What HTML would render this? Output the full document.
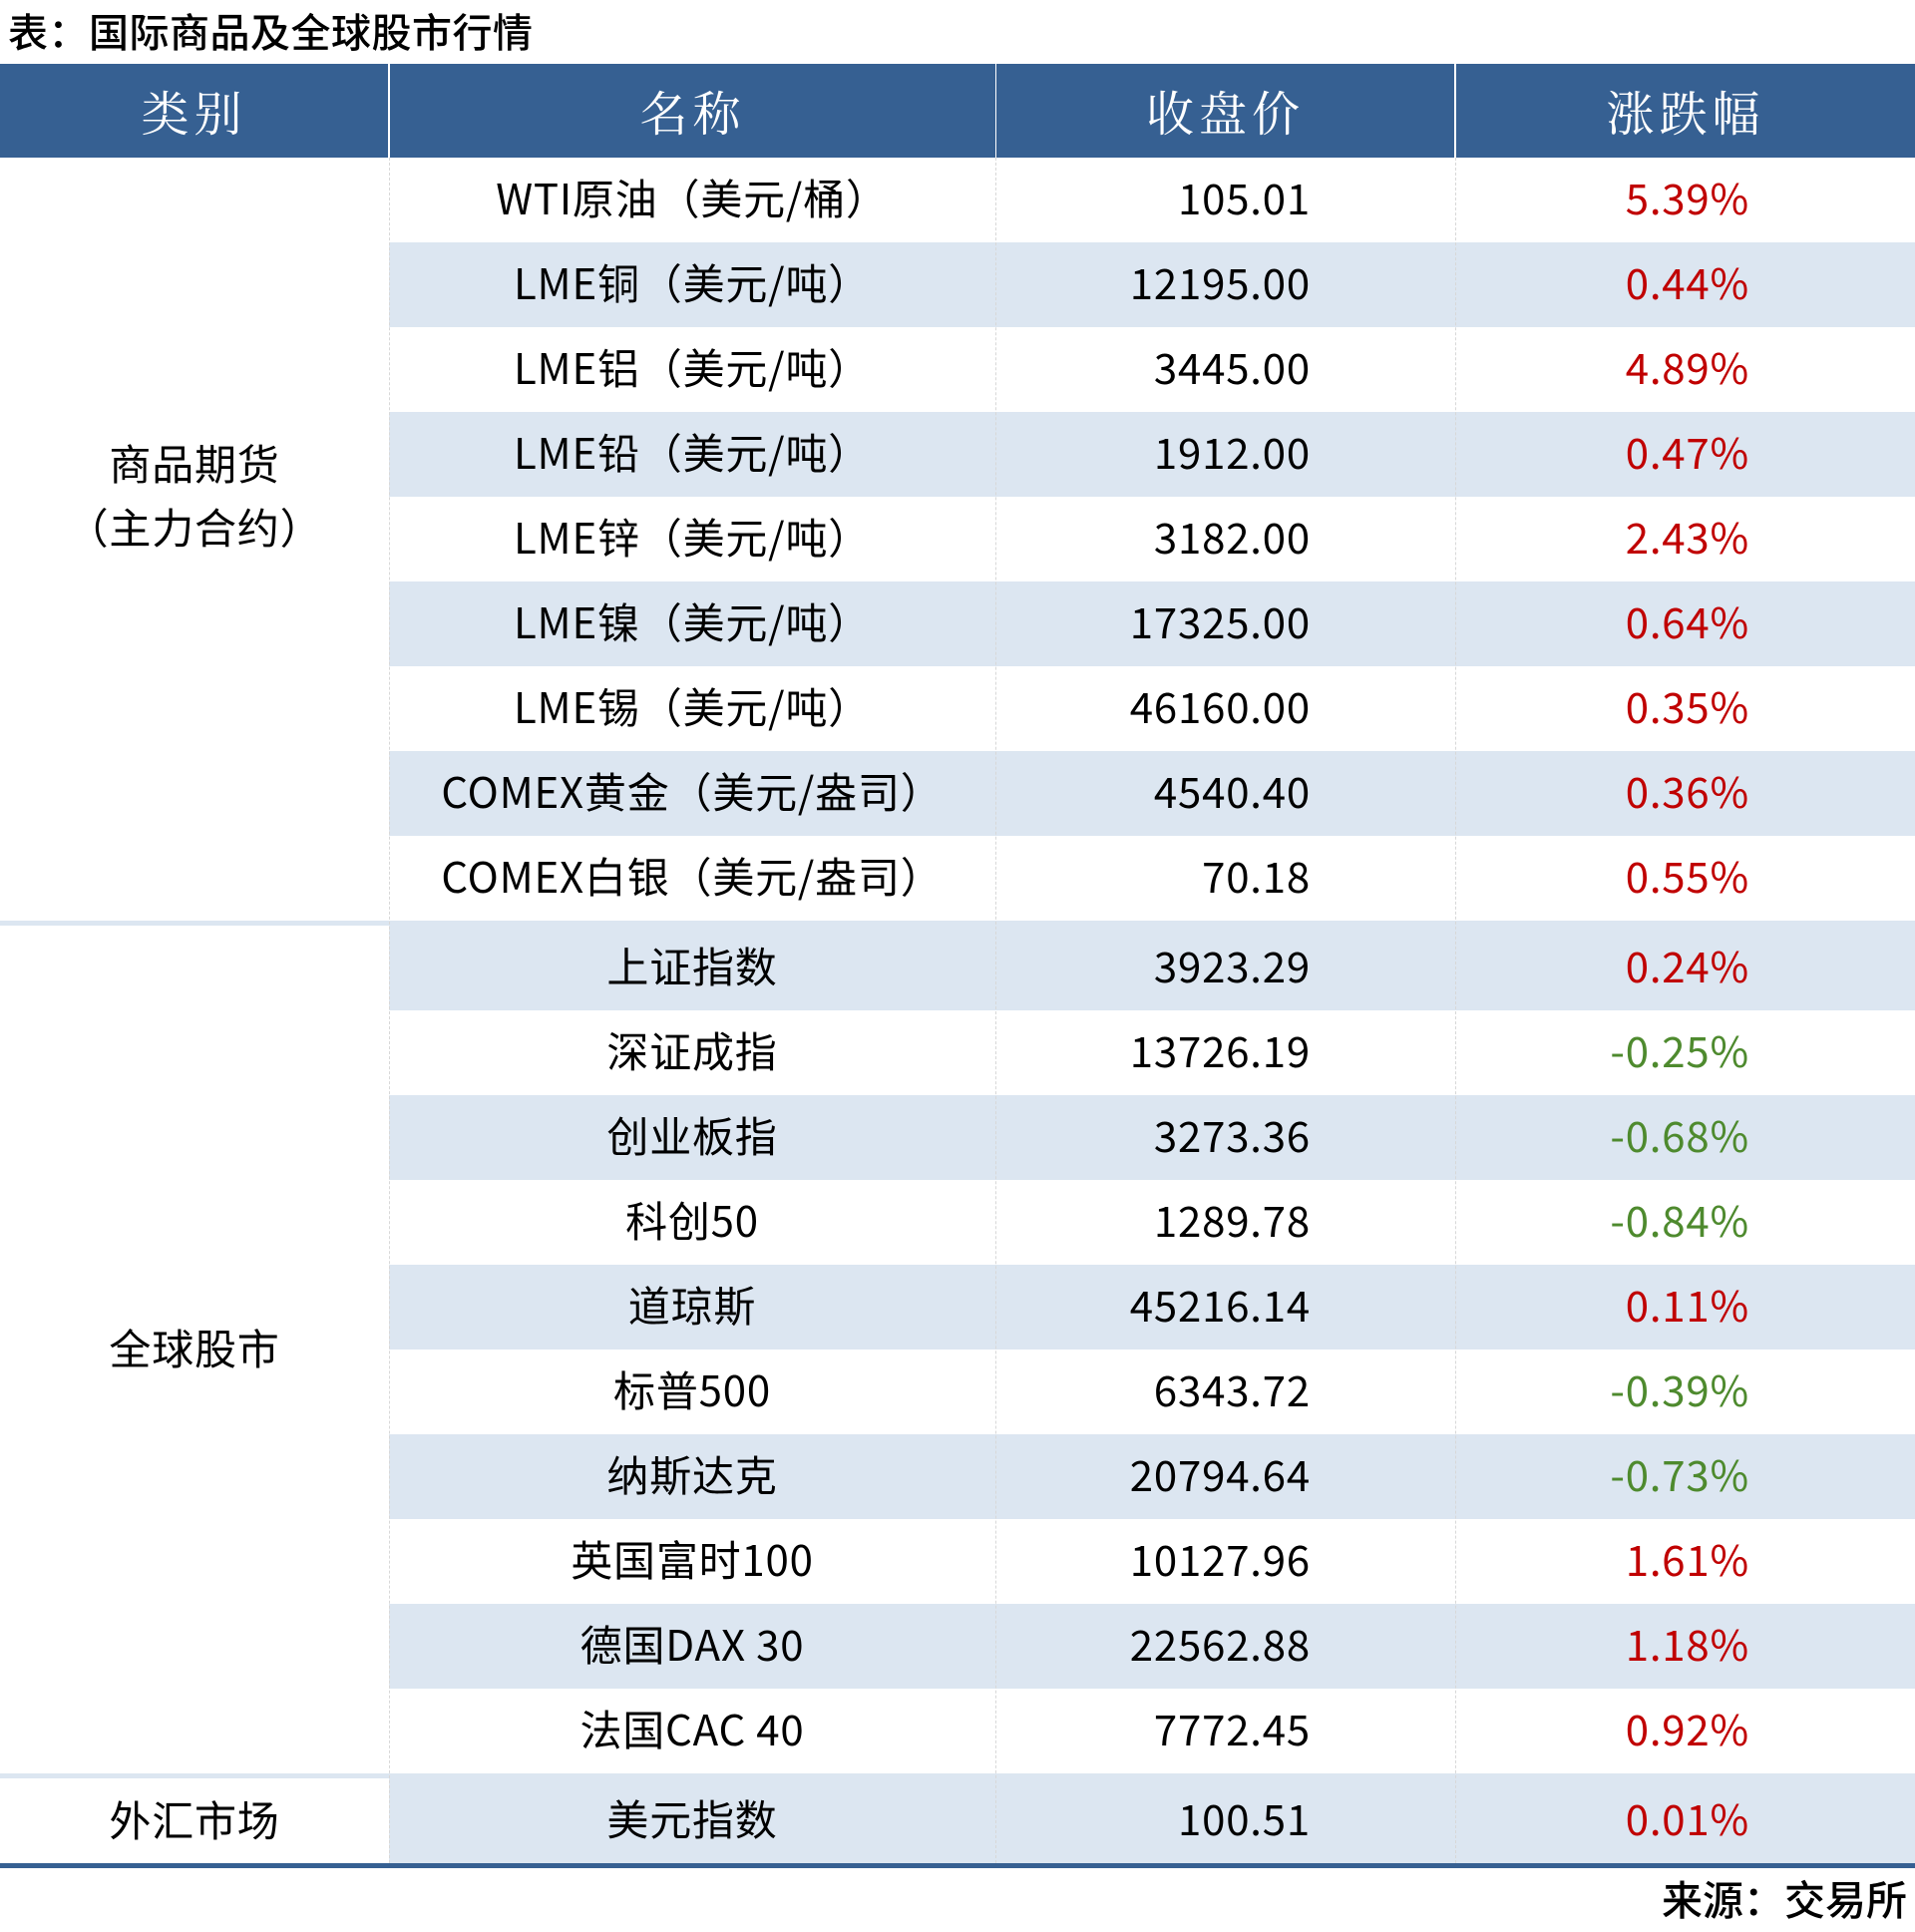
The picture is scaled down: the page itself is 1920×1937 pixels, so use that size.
<!DOCTYPE html>
<html><head><meta charset="utf-8"><style>
body{margin:0;width:1920px;height:1937px;background:#fff;position:relative;overflow:hidden;font-family:"Liberation Sans","Noto Sans CJK SC",sans-serif;}
.title{position:absolute;left:8px;top:4px;font-size:40px;color:#000;line-height:52px;font-family:"Noto Sans CJK SC",sans-serif;font-weight:500;letter-spacing:0.5px;}
.hdr{position:absolute;top:64px;height:94px;background:#366092;color:#fff;font-size:48px;line-height:94px;text-align:center;font-family:"Noto Serif CJK SC","Noto Sans CJK SC",serif;letter-spacing:5px;}
.row{position:absolute;left:390px;width:1530px;height:85px;font-size:42px;line-height:80px;font-family:"Noto Sans CJK SC","Liberation Sans",sans-serif;font-weight:400;letter-spacing:0.8px;}
.b{background:#DCE6F1;}
.nm{position:absolute;left:0;width:608px;text-align:center;}
.pr{position:absolute;right:606px;}
.pc{position:absolute;right:166px;}
.r{color:#C00000}.g{color:#4E8A2E}
.cat{position:absolute;left:0;width:390px;text-align:center;font-size:42px;font-family:"Noto Sans CJK SC",sans-serif;font-weight:400;letter-spacing:0.8px;}
.vl{position:absolute;top:158px;height:1710px;border-left:1px dashed #d8d8d8;}
</style></head><body>
<div class="title">表：国际商品及全球股市行情</div>
<div class="hdr" style="left:0;width:389px">类别</div>
<div class="hdr" style="left:391px;width:607px">名称</div>
<div class="hdr" style="left:999px;width:459px">收盘价</div>
<div class="hdr" style="left:1460px;width:460px">涨跌幅</div>

<div class="row" style="top:158px"><span class="nm">WTI原油（美元/桶）</span><span class="pr">105.01</span><span class="pc r">5.39%</span></div>
<div class="row b" style="top:243px"><span class="nm">LME铜（美元/吨）</span><span class="pr">12195.00</span><span class="pc r">0.44%</span></div>
<div class="row" style="top:328px"><span class="nm">LME铝（美元/吨）</span><span class="pr">3445.00</span><span class="pc r">4.89%</span></div>
<div class="row b" style="top:413px"><span class="nm">LME铅（美元/吨）</span><span class="pr">1912.00</span><span class="pc r">0.47%</span></div>
<div class="row" style="top:498px"><span class="nm">LME锌（美元/吨）</span><span class="pr">3182.00</span><span class="pc r">2.43%</span></div>
<div class="row b" style="top:583px"><span class="nm">LME镍（美元/吨）</span><span class="pr">17325.00</span><span class="pc r">0.64%</span></div>
<div class="row" style="top:668px"><span class="nm">LME锡（美元/吨）</span><span class="pr">46160.00</span><span class="pc r">0.35%</span></div>
<div class="row b" style="top:753px"><span class="nm">COMEX黄金（美元/盎司）</span><span class="pr">4540.40</span><span class="pc r">0.36%</span></div>
<div class="row" style="top:838px"><span class="nm">COMEX白银（美元/盎司）</span><span class="pr">70.18</span><span class="pc r">0.55%</span></div>

<div style="position:absolute;left:0;top:923px;width:390px;height:5px;background:#DCE6F1"></div>
<div class="row b" style="top:923px;height:90px;line-height:90px"><span class="nm">上证指数</span><span class="pr">3923.29</span><span class="pc r">0.24%</span></div>
<div class="row" style="top:1013px"><span class="nm">深证成指</span><span class="pr">13726.19</span><span class="pc g">-0.25%</span></div>
<div class="row b" style="top:1098px"><span class="nm">创业板指</span><span class="pr">3273.36</span><span class="pc g">-0.68%</span></div>
<div class="row" style="top:1183px"><span class="nm">科创50</span><span class="pr">1289.78</span><span class="pc g">-0.84%</span></div>
<div class="row b" style="top:1268px"><span class="nm">道琼斯</span><span class="pr">45216.14</span><span class="pc r">0.11%</span></div>
<div class="row" style="top:1353px"><span class="nm">标普500</span><span class="pr">6343.72</span><span class="pc g">-0.39%</span></div>
<div class="row b" style="top:1438px"><span class="nm">纳斯达克</span><span class="pr">20794.64</span><span class="pc g">-0.73%</span></div>
<div class="row" style="top:1523px"><span class="nm">英国富时100</span><span class="pr">10127.96</span><span class="pc r">1.61%</span></div>
<div class="row b" style="top:1608px"><span class="nm">德国DAX 30</span><span class="pr">22562.88</span><span class="pc r">1.18%</span></div>
<div class="row" style="top:1693px"><span class="nm">法国CAC 40</span><span class="pr">7772.45</span><span class="pc r">0.92%</span></div>

<div style="position:absolute;left:0;top:1778px;width:390px;height:5px;background:#DCE6F1"></div>
<div class="row b" style="top:1778px;height:90px;line-height:90px"><span class="nm">美元指数</span><span class="pr">100.51</span><span class="pc r">0.01%</span></div>
<div style="position:absolute;left:0;top:1868px;width:1920px;height:5px;background:#366092"></div>

<div class="vl" style="left:390px"></div>
<div class="vl" style="left:998px"></div>
<div class="vl" style="left:1459px"></div>

<div class="cat" style="top:432px;line-height:64px">商品期货<br>（主力合约）</div>
<div class="cat" style="top:1308px;line-height:85px">全球股市</div>
<div class="cat" style="top:1780px;line-height:88px">外汇市场</div>

<div style="position:absolute;right:8px;top:1874px;font-size:41px;line-height:56px;font-family:'Noto Sans CJK SC',sans-serif;font-weight:500">来源：交易所</div>
</body></html>
